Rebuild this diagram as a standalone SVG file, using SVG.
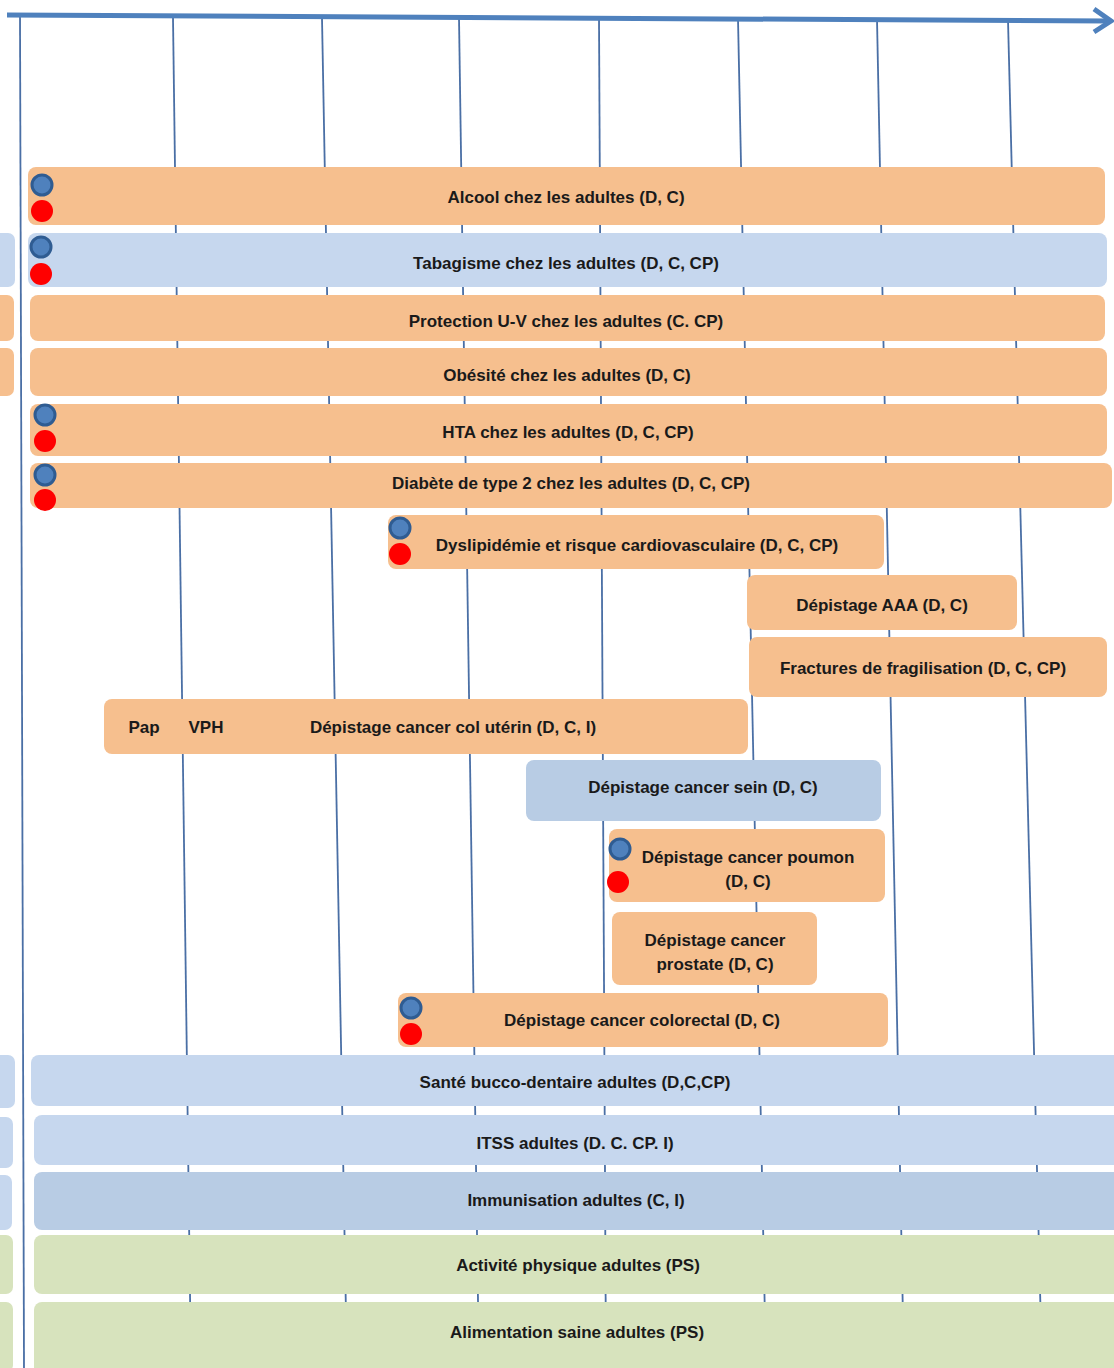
<svg xmlns="http://www.w3.org/2000/svg" width="1114" height="1368" viewBox="0 0 1114 1368">
<style>
.o{fill:#F6BF8E}
.b{fill:#C6D7EE}
.bd{fill:#B8CCE4}
.g{fill:#D7E3BD}
.t{font-family:"Liberation Sans",Arial,sans-serif;font-weight:bold;font-size:17px;fill:#1a1a1a;text-anchor:middle;dominant-baseline:central}
.v{stroke:#4A6FA5;stroke-width:1.8;fill:none}
.bl{fill:#4F81BD;stroke:#2F5C92;stroke-width:3}
.rd{fill:#FF0000}
</style>
<rect width="1114" height="1368" fill="#FFFFFF"/>
<g id="grid">
<line class="v" x1="20" y1="16" x2="24" y2="1368"/>
<line class="v" x1="173" y1="18" x2="191" y2="1368"/>
<line class="v" x1="322" y1="18" x2="347" y2="1368"/>
<line class="v" x1="459" y1="18" x2="479" y2="1368"/>
<line class="v" x1="599" y1="18" x2="606" y2="1368"/>
<line class="v" x1="738" y1="19" x2="766" y2="1368"/>
<line class="v" x1="877" y1="19" x2="904" y2="1368"/>
<line class="v" x1="1008" y1="20" x2="1042" y2="1368"/>
</g>
<g id="axis">
<line x1="7" y1="15" x2="1108" y2="21" stroke="#4F81BD" stroke-width="5"/>
<polyline points="1094,9 1111,21 1094,32" fill="none" stroke="#4F81BD" stroke-width="5" stroke-linejoin="miter"/>
</g>
<g id="slivers">
<rect class="b" x="-20" y="233" width="35" height="54" rx="7"/>
<rect class="o" x="-20" y="295" width="34" height="46" rx="7"/>
<rect class="o" x="-20" y="348" width="34" height="48" rx="7"/>
<rect class="b" x="-20" y="1055" width="35" height="53" rx="7"/>
<rect class="b" x="-20" y="1117" width="33" height="51" rx="7"/>
<rect class="b" x="-20" y="1175" width="32" height="55" rx="7"/>
<rect class="g" x="-20" y="1235" width="33" height="59" rx="7"/>
<rect class="g" x="-20" y="1302" width="33" height="70" rx="7"/>
</g>
<g id="alcool">
<rect class="o" x="28" y="167" width="1077" height="58" rx="8"/>
<text class="t" x="566" y="197">Alcool chez les adultes (D, C)</text>
<circle class="bl" cx="42" cy="185" r="10"/><circle class="rd" cx="42" cy="211" r="11"/>
</g>
<g id="tabagisme">
<rect class="b" x="28" y="233" width="1079" height="54" rx="8"/>
<text class="t" x="566" y="263">Tabagisme chez les adultes (D, C, CP)</text>
<circle class="bl" cx="41" cy="247" r="10"/><circle class="rd" cx="41" cy="274" r="11"/>
</g>
<g id="protection">
<rect class="o" x="30" y="295" width="1075" height="46" rx="8"/>
<text class="t" x="566" y="321">Protection U-V chez les adultes (C. CP)</text>
</g>
<g id="obesite">
<rect class="o" x="30" y="348" width="1077" height="48" rx="8"/>
<text class="t" x="567" y="375">Obésité chez les adultes (D, C)</text>
</g>
<g id="hta">
<rect class="o" x="30" y="404" width="1077" height="52" rx="8"/>
<text class="t" x="568" y="432">HTA chez les adultes (D, C, CP)</text>
<circle class="bl" cx="45" cy="415" r="10"/><circle class="rd" cx="45" cy="441" r="11"/>
</g>
<g id="diabete">
<rect class="o" x="30" y="463" width="1082" height="45" rx="8"/>
<text class="t" x="571" y="483">Diabète de type 2 chez les adultes (D, C, CP)</text>
<circle class="bl" cx="45" cy="475" r="10"/><circle class="rd" cx="45" cy="500" r="11"/>
</g>
<g id="dyslipidemie">
<rect class="o" x="388" y="515" width="496" height="54" rx="8"/>
<text class="t" x="637" y="545">Dyslipidémie et risque cardiovasculaire (D, C, CP)</text>
<circle class="bl" cx="400" cy="528" r="10"/><circle class="rd" cx="400" cy="554" r="11"/>
</g>
<g id="aaa">
<rect class="o" x="747" y="575" width="270" height="55" rx="8"/>
<text class="t" x="882" y="605">Dépistage AAA (D, C)</text>
</g>
<g id="fractures">
<rect class="o" x="749" y="637" width="358" height="60" rx="8"/>
<text class="t" x="923" y="668">Fractures de fragilisation (D, C, CP)</text>
</g>
<g id="col">
<rect class="o" x="104" y="699" width="644" height="55" rx="8"/>
<text class="t" x="144" y="727">Pap</text>
<text class="t" x="206" y="727">VPH</text>
<text class="t" x="453" y="727">Dépistage cancer col utérin (D, C, I)</text>
</g>
<g id="sein">
<rect class="bd" x="526" y="760" width="355" height="61" rx="8"/>
<text class="t" x="703" y="787">Dépistage cancer sein (D, C)</text>
</g>
<g id="poumon">
<rect class="o" x="609" y="829" width="276" height="73" rx="8"/>
<text class="t" x="748" y="857">Dépistage cancer poumon</text>
<text class="t" x="748" y="881">(D, C)</text>
<circle class="bl" cx="620" cy="849" r="10"/><circle class="rd" cx="618" cy="882" r="11"/>
</g>
<g id="prostate">
<rect class="o" x="612" y="912" width="205" height="73" rx="8"/>
<text class="t" x="715" y="940">Dépistage cancer</text>
<text class="t" x="715" y="964">prostate (D, C)</text>
</g>
<g id="colorectal">
<rect class="o" x="398" y="993" width="490" height="54" rx="8"/>
<text class="t" x="642" y="1020">Dépistage cancer colorectal (D, C)</text>
<circle class="bl" cx="411" cy="1008" r="10"/><circle class="rd" cx="411" cy="1034" r="11"/>
</g>
<g id="bucco">
<rect class="b" x="31" y="1055" width="1095" height="51" rx="8"/>
<text class="t" x="575" y="1082">Santé bucco-dentaire adultes (D,C,CP)</text>
</g>
<g id="itss">
<rect class="b" x="34" y="1115" width="1092" height="50" rx="8"/>
<text class="t" x="575" y="1143">ITSS adultes (D. C. CP. I)</text>
</g>
<g id="immunisation">
<rect class="bd" x="34" y="1172" width="1092" height="58" rx="8"/>
<text class="t" x="576" y="1200">Immunisation adultes (C, I)</text>
</g>
<g id="activite">
<rect class="g" x="34" y="1235" width="1092" height="59" rx="8"/>
<text class="t" x="578" y="1265">Activité physique adultes (PS)</text>
</g>
<g id="alimentation">
<rect class="g" x="34" y="1302" width="1092" height="80" rx="8"/>
<text class="t" x="577" y="1332">Alimentation saine adultes (PS)</text>
</g>
</svg>
